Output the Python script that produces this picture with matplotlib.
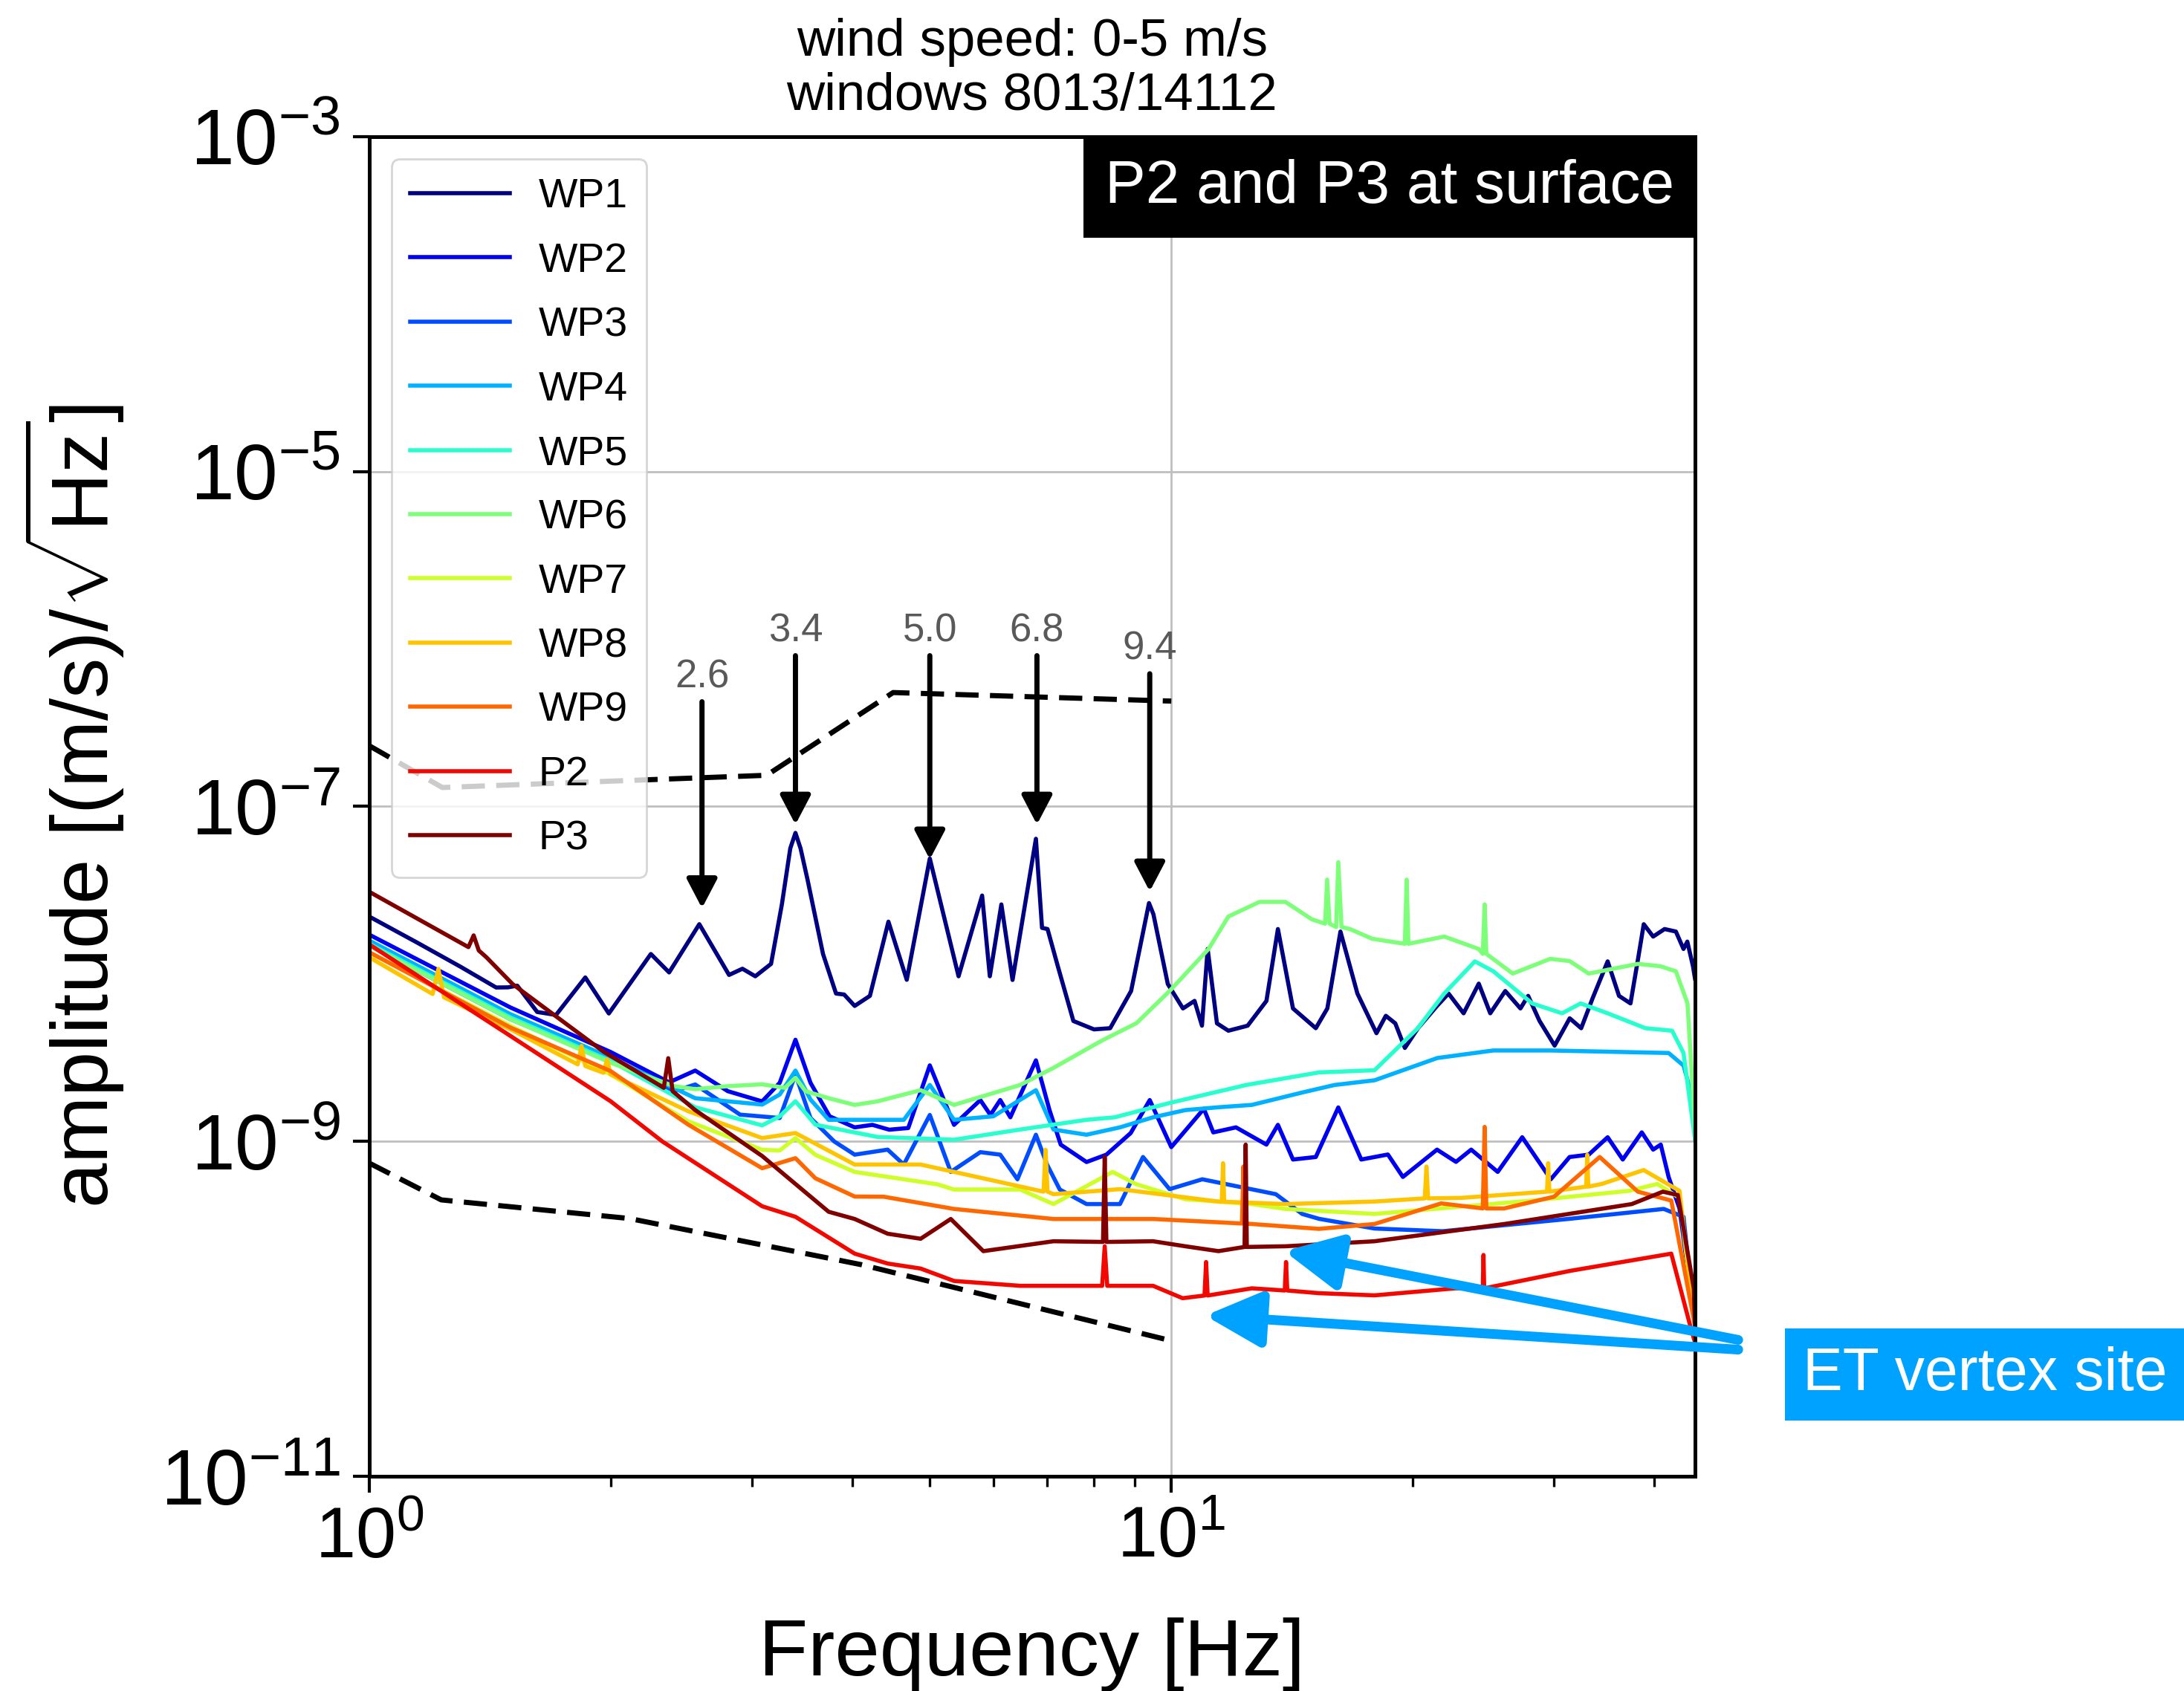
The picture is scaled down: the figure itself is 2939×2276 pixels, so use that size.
import numpy as np
import matplotlib.pyplot as plt
from matplotlib.ticker import NullLocator, NullFormatter, FixedLocator

plt.rcParams['font.family'] = ['Liberation Sans', 'DejaVu Sans']
plt.rcParams['mathtext.fontset'] = 'custom'
plt.rcParams['mathtext.rm'] = 'Liberation Sans'
plt.rcParams['mathtext.it'] = 'Liberation Sans:italic'
plt.rcParams['mathtext.bf'] = 'Liberation Sans:bold'

# ---------- spectra: frequency [Hz] and log10 amplitude [(m/s)/sqrt(Hz)] ----------
sensor_names = ['WP1', 'WP2', 'WP3', 'WP4', 'WP5', 'WP6', 'WP7', 'WP8', 'WP9', 'P2', 'P3']

wp1_freq = [1.00, 1.15, 1.30, 1.44, 1.49, 1.53, 1.62, 1.71, 1.86, 1.99, 2.245, 2.366, 2.58, 2.81,
            2.92, 3.03, 3.17, 3.27, 3.35, 3.40, 3.45, 3.52, 3.68, 3.82, 3.91, 4.03, 4.21, 4.44,
            4.68, 5.00, 5.43, 5.81, 5.94, 6.14, 6.34, 6.78, 6.90, 7.01, 7.22, 7.55, 8.01, 8.39,
            8.91, 9.38, 9.50, 9.90, 10.34, 10.69, 10.92, 11.10, 11.40, 11.78, 12.45, 13.14,
            13.58, 14.18, 15.14, 15.65, 16.25, 17.06, 18.02, 18.51, 19.02, 19.55, 20.30, 21.44,
            22.16, 23.14, 24.17, 24.98, 26.08, 27.24, 27.85, 28.77, 30.05, 31.38, 32.43, 33.50,
            34.99, 36.15, 37.36, 38.18, 38.81, 39.87, 41.20, 42.56, 43.50, 43.98, 44.70, 44.96]
wp1_amp = [-7.657, -7.815, -7.957, -8.081, -8.08, -8.07, -8.227, -8.245, -8.021, -8.236, -7.881,
           -7.991, -7.703, -8.006, -7.969, -8.014, -7.94, -7.585, -7.25, -7.158, -7.25, -7.437,
           -7.881, -8.117, -8.123, -8.191, -8.131, -7.688, -8.035, -7.311, -8.014, -7.532,
           -8.014, -7.585, -8.036, -7.193, -7.725, -7.732, -7.954, -8.281, -8.331, -8.324,
           -8.102, -7.577, -7.644, -8.06, -8.206, -8.161, -8.309, -7.851, -8.295, -8.339,
           -8.309, -8.161, -7.732, -8.206, -8.324, -8.206, -7.747, -8.117, -8.354, -8.25,
           -8.295, -8.442, -8.324, -8.191, -8.117, -8.235, -8.058, -8.235, -8.102, -8.206,
           -8.131, -8.28, -8.428, -8.265, -8.324, -8.147, -7.925, -8.131, -8.176, -7.91,
           -7.703, -7.777, -7.732, -7.747, -7.851, -7.807, -7.954, -8.028]

wp2_freq = [1.00, 1.50, 2.00, 2.366, 2.55, 2.80, 3.09, 3.25, 3.40, 3.55, 3.75, 4.03, 4.24, 4.45,
            4.70, 5.00, 5.36, 5.78, 5.95, 6.12, 6.30, 6.78, 7.05, 7.28, 7.84, 8.30, 8.90, 9.40,
            10.0, 10.98, 11.28, 12.04, 13.14, 13.58, 14.18, 15.14, 16.15, 17.25, 18.62, 19.44,
            21.44, 22.64, 23.65, 25.52, 27.38, 29.72, 31.37, 33.14, 34.99, 36.54, 38.59, 39.87,
            40.75, 41.68, 43.0, 44.96]
wp2_amp = [-7.765, -8.20, -8.466, -8.647, -8.577, -8.70, -8.761, -8.65, -8.393, -8.65, -8.85,
           -8.916, -8.901, -8.93, -8.92, -8.546, -8.901, -8.753, -8.842, -8.753, -8.856, -8.516,
           -8.813, -9.019, -9.123, -9.079, -8.95, -8.753, -9.034, -8.805, -8.946, -8.916, -9.019,
           -8.901, -9.108, -9.093, -8.797, -9.108, -9.078, -9.212, -9.049, -9.122, -9.049,
           -9.182, -8.975, -9.226, -9.093, -9.079, -8.975, -9.108, -8.946, -9.049, -9.019,
           -9.212, -9.40, -10.08]

wp3_freq = [1.00, 1.50, 2.00, 2.40, 2.55, 2.90, 3.25, 3.40, 3.55, 3.80, 4.03, 4.43, 4.64, 5.00,
            5.31, 5.78, 6.12, 6.43, 6.78, 7.00, 7.26, 7.84, 8.63, 9.22, 9.95, 10.93, 13.50,
            14.56, 15.28, 17.92, 21.80, 31.37, 41.10, 43.5, 44.96]
wp3_amp = [-7.83, -8.27, -8.52, -8.70, -8.66, -8.84, -8.86, -8.60, -8.86, -9.00, -9.079, -9.049,
           -9.138, -8.842, -9.182, -9.064, -9.079, -9.226, -8.96, -9.138, -9.287, -9.374,
           -9.374, -9.093, -9.285, -9.226, -9.315, -9.433, -9.462, -9.52, -9.536, -9.462,
           -9.403, -9.45, -10.1]

wp4_freq = [1.00, 1.50, 2.00, 2.55, 3.09, 3.25, 3.40, 3.55, 3.74, 4.30, 4.64, 5.00, 5.36, 6.00,
            6.78, 7.13, 7.84, 8.63, 9.49, 10.41, 11.45, 12.60, 14.56, 15.98, 17.92, 21.46, 25.20,
            29.66, 41.68, 43.50, 44.70, 44.96]
wp4_amp = [-7.80, -8.24, -8.50, -8.742, -8.78, -8.72, -8.577, -8.75, -8.871, -8.871, -8.871,
           -8.663, -8.871, -8.85, -8.694, -8.929, -8.96, -8.916, -8.856, -8.813, -8.796, -8.782,
           -8.708, -8.663, -8.635, -8.502, -8.457, -8.457, -8.472, -8.547, -8.75, -8.988]

wp5_freq = [1.00, 1.50, 2.00, 2.55, 3.09, 3.25, 3.40, 3.60, 4.30, 5.36, 6.48, 7.84, 8.50, 9.49,
            10.0, 12.4, 15.28, 17.92, 20.29, 21.89, 23.90, 25.20, 28.17, 30.70, 32.38, 34.99,
            39.0, 42.1, 43.5, 44.96]
wp5_amp = [-7.82, -8.26, -8.52, -8.796, -8.904, -8.85, -8.76, -8.90, -8.973, -8.99, -8.929,
           -8.871, -8.856, -8.796, -8.768, -8.663, -8.588, -8.575, -8.324, -8.117, -7.925,
           -7.984, -8.176, -8.235, -8.176, -8.235, -8.324, -8.339, -8.472, -8.988]

wp6_freq = [1.00, 1.50, 2.00, 2.40, 2.55, 2.80, 3.09, 3.30, 3.40, 3.50, 3.74, 4.03, 4.30, 4.87,
            5.36, 6.48, 7.13, 8.20, 9.05, 9.95, 11.13, 11.78, 12.88, 13.88, 14.97, 15.55, 15.64,
            15.75, 16.05, 16.15, 16.30, 16.70, 17.80, 19.55, 19.65, 19.75, 21.89, 24.17, 24.45,
            24.58, 24.70, 26.65, 29.66, 31.37, 33.14, 38.16, 40.70, 42.56, 44.0, 44.96]
wp6_amp = [-7.83, -8.27, -8.53, -8.67, -8.688, -8.67, -8.659, -8.68, -8.62, -8.70, -8.742,
           -8.782, -8.761, -8.694, -8.782, -8.663, -8.561, -8.397, -8.294, -8.102, -7.851,
           -7.657, -7.57, -7.57, -7.674, -7.70, -7.437, -7.70, -7.72, -7.333, -7.72, -7.732,
           -7.79, -7.82, -7.437, -7.82, -7.777, -7.851, -7.88, -7.585, -7.88, -7.998, -7.91,
           -7.923, -7.998, -7.94, -7.954, -7.984, -8.176, -8.913]

wp7_freq = [1.00, 1.50, 2.00, 2.50, 3.09, 3.25, 3.40, 3.60, 4.03, 5.11, 5.36, 6.48, 7.13, 8.45,
            9.05, 10.41, 12.60, 13.88, 17.92, 28.17, 37.20, 40.35, 43.0, 44.96]
wp7_amp = [-7.87, -8.31, -8.60, -8.88, -9.05, -9.054, -8.98, -9.08, -9.182, -9.256, -9.287,
           -9.287, -9.374, -9.182, -9.256, -9.345, -9.374, -9.403, -9.433, -9.353, -9.295,
           -9.254, -9.337, -10.1]

wp8_freq = [1.00, 1.20, 1.22, 1.24, 1.50, 1.82, 1.84, 1.86, 1.96, 1.98, 2.00, 2.50, 3.09, 3.40,
            4.03, 4.87, 5.90, 6.93, 6.97, 7.01, 7.13, 8.63, 11.45, 11.56, 11.60, 11.64, 13.88,
            17.92, 20.70, 20.80, 20.90, 23.0, 29.4, 29.5, 29.6, 32.9, 33.0, 33.1, 34.4, 38.8,
            43.0, 44.96]
wp8_amp = [-7.90, -8.12, -7.97, -8.14, -8.33, -8.54, -8.43, -8.55, -8.59, -8.51, -8.60, -8.82,
           -8.98, -8.95, -9.138, -9.138, -9.226, -9.30, -9.05, -9.30, -9.315, -9.285, -9.359,
           -9.36, -9.13, -9.36, -9.374, -9.359, -9.34, -9.15, -9.34, -9.337, -9.30, -9.13,
           -9.30, -9.27, -9.08, -9.27, -9.254, -9.171, -9.295, -10.1]

wp9_freq = [1.00, 1.50, 2.00, 2.50, 3.09, 3.40, 3.60, 4.03, 4.38, 5.36, 7.13, 9.49, 12.25, 12.30,
            12.35, 12.60, 15.28, 17.92, 21.7, 24.45, 24.58, 24.70, 26.0, 30.0, 34.2, 38.16,
            42.0, 44.96]
wp9_amp = [-7.87, -8.32, -8.58, -8.90, -9.16, -9.10, -9.22, -9.329, -9.33, -9.403, -9.463,
           -9.463, -9.49, -9.15, -9.49, -9.493, -9.522, -9.493, -9.37, -9.40, -8.913, -9.40,
           -9.40, -9.33, -9.093, -9.30, -9.353, -10.1]

p2_freq = [1.00, 1.50, 2.00, 2.32, 3.09, 3.40, 4.03, 4.43, 4.87, 5.36, 6.48, 8.20, 8.26, 8.32,
           9.49, 10.33, 11.00, 11.05, 11.10, 12.60, 13.85, 13.90, 13.95, 15.28, 17.92, 22.6,
           24.45, 24.50, 24.55, 31.4, 42.0, 44.4, 44.96]
p2_amp = [-7.823, -8.37, -8.76, -9.0, -9.387, -9.45, -9.67, -9.729, -9.759, -9.833, -9.862,
          -9.862, -9.626, -9.862, -9.862, -9.936, -9.92, -9.72, -9.92, -9.877, -9.89, -9.72,
          -9.89, -9.906, -9.919, -9.877, -9.877, -9.678, -9.877, -9.773, -9.67, -10.11, -10.2]

p3_freq = [1.00, 1.33, 1.35, 1.37, 1.40, 1.51, 1.96, 2.33, 2.36, 2.39, 2.55, 3.09, 3.40, 3.74,
           4.03, 4.43, 4.87, 5.31, 5.83, 7.13, 8.22, 8.26, 8.30, 9.49, 10.41, 11.45, 12.34,
           12.38, 12.42, 13.88, 17.92, 26.1, 37.5, 41.0, 42.8, 44.8, 44.96]
p3_amp = [-7.509, -7.84, -7.77, -7.86, -7.90, -8.061, -8.464, -8.68, -8.503, -8.70, -8.813,
          -9.087, -9.254, -9.42, -9.463, -9.551, -9.581, -9.463, -9.655, -9.596, -9.60, -9.093,
          -9.60, -9.596, -9.626, -9.655, -9.63, -9.019, -9.63, -9.626, -9.596, -9.492, -9.374,
          -9.30, -9.32, -9.877, -10.1]

# reference curves (dashed)
upper_freq = [1.0, 1.234, 3.13, 4.50, 10.0]
upper_amp = [-6.637, -6.887, -6.814, -6.32, -6.371]
lower_freq = [1.0, 1.23, 2.11, 4.11, 10.0]
lower_amp = [-9.129, -9.349, -9.46, -9.736, -10.19]

# labelled resonance peaks of WP1: frequency, arrow tip and label height (log10)
peak_freq = [2.6, 3.4, 5.0, 6.8, 9.4]
peak_tip = [-7.607, -7.108, -7.316, -7.108, -7.507]
peak_label = [-6.227, -5.952, -5.952, -5.952, -6.06]

# "ET vertex site" arrows: tail and tip (frequency, log10 amplitude)
site_tail = [(50.9, -10.185), (50.9, -10.243)]
site_tip = [(13.83, -9.655), (11.02, -10.04)]

series = [(wp1_freq, wp1_amp), (wp2_freq, wp2_amp), (wp3_freq, wp3_amp), (wp4_freq, wp4_amp),
          (wp5_freq, wp5_amp), (wp6_freq, wp6_amp), (wp7_freq, wp7_amp), (wp8_freq, wp8_amp),
          (wp9_freq, wp9_amp), (p2_freq, p2_amp), (p3_freq, p3_amp)]

fig = plt.figure(figsize=(14.695, 11.38), dpi=200)
ax = fig.add_axes([0.169, 0.1269, 0.6071, 0.7924])

colors = plt.cm.jet(np.linspace(0, 1, len(sensor_names)))
for (fr, amp), name, c in zip(series, sensor_names, colors):
    ax.plot(fr, 10 ** np.array(amp), color=c, lw=2.0, label=name)

ax.plot(upper_freq, 10 ** np.array(upper_amp), color='k', lw=2.5, dashes=(4.5, 2.2))
ax.plot(lower_freq, 10 ** np.array(lower_amp), color='k', lw=2.5, dashes=(4.5, 2.2))

ax.set_xscale('log')
ax.set_yscale('log')
ax.set_xlim(1, 44.96)
ax.set_ylim(1e-11, 1e-3)

ax.yaxis.set_major_locator(FixedLocator([1e-11, 1e-9, 1e-7, 1e-5, 1e-3]))
ax.yaxis.set_minor_locator(NullLocator())
ax.xaxis.set_minor_formatter(NullFormatter())
ax.tick_params(which='major', direction='out', length=8, width=1.5, pad=6)
ax.tick_params(axis='x', which='major', labelsize=35)
ax.tick_params(axis='y', which='major', labelsize=38)
ax.tick_params(which='minor', direction='out', length=5, width=1.2)
ax.grid(True, which='major', color='0.75', lw=1.0)
for sp in ax.spines.values():
    sp.set_linewidth(1.8)

ax.set_xlabel('Frequency [Hz]', fontsize=39)
ax.xaxis.set_label_coords(0.5, -0.105)
ax.xaxis.label.set_va('top')
ax.set_ylabel(r'amplitude [(m/s)/$\sqrt{\rm Hz}$]', fontsize=39)
ax.yaxis.set_label_coords(-0.183, 0.5)

ax.set_title('wind speed: 0-5 m/s\nwindows 8013/14112', fontsize=25.5, pad=13, linespacing=1.12)

ax.legend(loc='upper left', fontsize=20, handlelength=2.4, handletextpad=0.7,
          labelspacing=0.62, borderaxespad=0.55, borderpad=0.45)

# arrows to the resonance peaks
for fp, tip, lab in zip(peak_freq, peak_tip, peak_label):
    ax.annotate(f'{fp:.1f}', xy=(fp, 10 ** tip), xytext=(fp, 10 ** lab),
                ha='center', va='center', fontsize=19, color='#595959',
                arrowprops=dict(arrowstyle='-|>,head_length=0.63,head_width=0.33',
                                color='k', lw=2.5, shrinkA=1, shrinkB=0))

# label box in the upper right corner
ax.annotate('P2 and P3 at surface', xy=(1, 1), xycoords='axes fraction',
            xytext=(-10, -11), textcoords='offset points', ha='right', va='top',
            fontsize=29.5, color='white',
            bbox=dict(boxstyle='square,pad=0.36', facecolor='black', edgecolor='none'))

# vertex site arrows and box
for (tf, ta), (hf, ha_) in zip(site_tail, site_tip):
    ax.annotate('', xy=(hf, 10 ** ha_), xytext=(tf, 10 ** ta), annotation_clip=False,
                arrowprops=dict(arrowstyle='-|>,head_length=1.15,head_width=0.57',
                                mutation_scale=20, color='#00A2FF', lw=4.7,
                                shrinkA=0, shrinkB=0))
fig.text(0.9088, 0.1872, 'ET vertex site', ha='center', va='center', fontsize=29,
         color='white', bbox=dict(boxstyle='square,pad=0.3', facecolor='#00A2FF',
                                  edgecolor='none'))

fig.savefig('out.png', dpi=200)
